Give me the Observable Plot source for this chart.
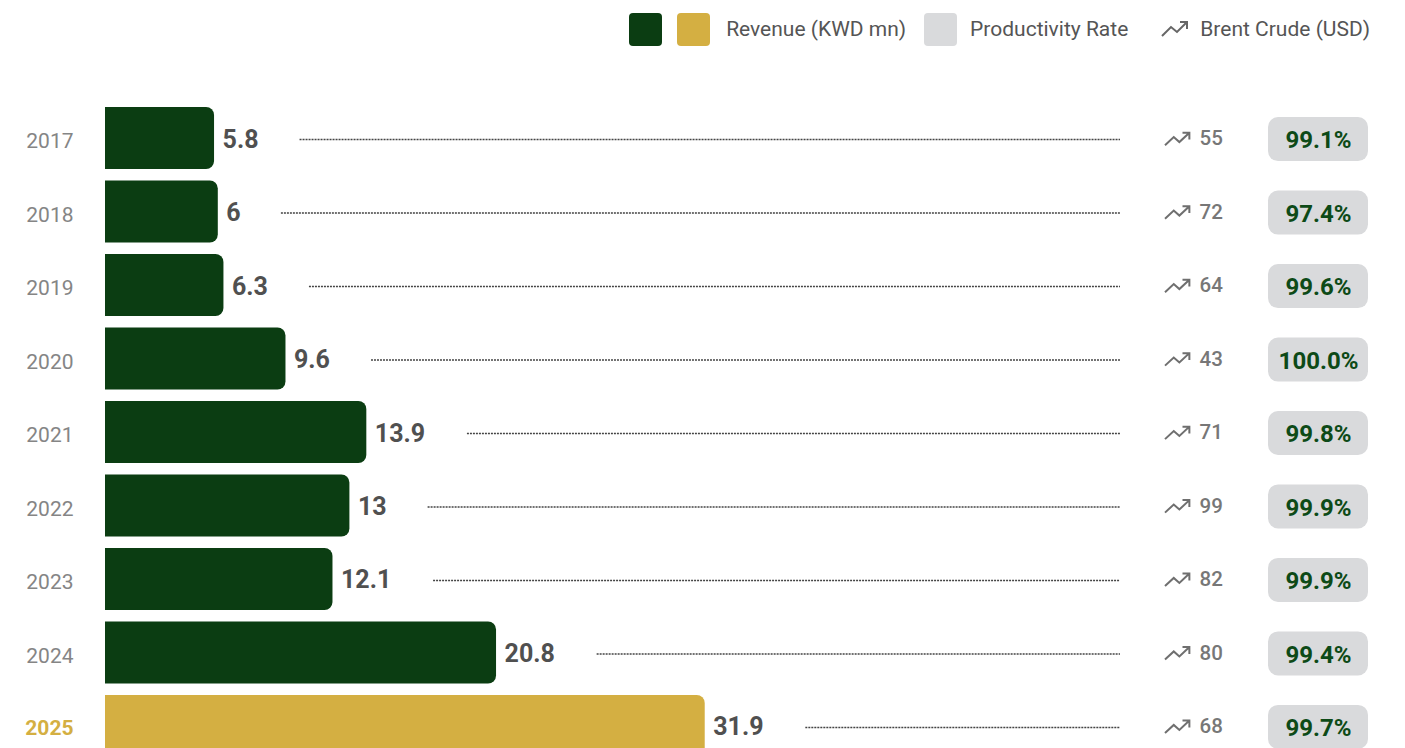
<!DOCTYPE html>
<html><head><meta charset="utf-8">
<script src="https://cdn.jsdelivr.net/npm/d3@7"></script>
<script src="https://cdn.jsdelivr.net/npm/@observablehq/plot@0.6"></script>
<style>
body{margin:0;background:#fff;font-family:Roboto,"Noto Sans",sans-serif;}
#legend{height:58px;display:flex;align-items:center;justify-content:flex-end;padding-right:35px;box-sizing:border-box;font-size:21px;color:#555;}
.sw{width:33px;height:33px;border-radius:4px;display:inline-block;}
.item{display:flex;align-items:center;}
#chart svg{display:block;}
</style></head>
<body>
<div id="legend">
  <div class="item"><span class="sw" style="background:#0b3d12"></span><span class="sw" style="background:#d4af42;margin-left:15px"></span><span style="margin-left:16px">Revenue (KWD mn)</span></div>
  <div class="item" style="margin-left:18px"><span class="sw" style="background:#d9dadc"></span><span style="margin-left:13px">Productivity Rate</span></div>
  <div class="item" style="margin-left:32px"><svg width="30" height="20" viewBox="0 0 30 20"><path d="M2,17 L11,8 L17,13 L27,3 M20,3 L27,3 L27,10" fill="none" stroke="#666" stroke-width="2"/></svg><span style="margin-left:10px">Brent Crude (USD)</span></div>
</div>
<div id="chart"></div>
<script>
const years = ["2017","2018","2019","2020","2021","2022","2023","2024","2025"];
const revenue = [5.8, 6, 6.3, 9.6, 13.9, 13, 12.1, 20.8, 31.9];
const brent = [55, 72, 64, 43, 71, 99, 82, 80, 68];
const productivity = [99.1, 97.4, 99.6, 100.0, 99.8, 99.9, 99.9, 99.4, 99.7];
const highlightYear = "2025";

const data = years.map((y, i) => ({year: y, revenue: revenue[i], brent: brent[i], prod: productivity[i]}));

const W = 1405, mL = 105, mR = 37;
const k = 18.8; // px per unit
const xMaxUnits = (W - mL - mR) / k;
const px = p => (p - mL) / k;
const labelW = v => { const s = String(v); let w = 0; for (const c of s) w += c === "." ? 7.3 : 15.1; return w; };

const green = "#0b3d12", gold = "#d4af42";

const trendSymbol = {
  draw(ctx, size) {
    const r = Math.sqrt(size / Math.PI);
    ctx.moveTo(-r, 0.45 * r);
    ctx.lineTo(-0.3 * r, -0.2 * r);
    ctx.lineTo(0.15 * r, 0.2 * r);
    ctx.lineTo(0.95 * r, -0.55 * r);
    ctx.moveTo(0.4 * r, -0.55 * r);
    ctx.lineTo(0.95 * r, -0.55 * r);
    ctx.lineTo(0.95 * r, 0);
  }
};

const chart = Plot.plot({
  width: W,
  height: 720,
  marginLeft: mL,
  marginRight: mR,
  marginTop: 49,
  marginBottom: 21,
  style: {fontFamily: "Roboto, sans-serif", background: "#fff"},
  x: {domain: [0, xMaxUnits], axis: null},
  y: {domain: years, paddingInner: 0.155, paddingOuter: 0, round: false, axis: null},
  marks: [
    Plot.barX(data, {x1: -1, x2: "revenue", y: "year", fill: d => d.year === highlightYear ? gold : green, rx: 8, clip: true}),
    Plot.text(data, {x: "revenue", y: "year", text: d => String(d.revenue), dx: 8, dy: 1, textAnchor: "start", fontSize: 25, fontWeight: "bold", fill: "#505050"}),
    Plot.ruleY(data, {y: "year", x1: d => d.revenue + (8 + labelW(d.revenue) + 40) / k, x2: px(1120), dy: 1, stroke: "#444", strokeWidth: 1.5, strokeDasharray: "2 1"}),
    Plot.dot(data, {x: px(1177), y: "year", symbol: trendSymbol, r: 12.5, stroke: "#6f6f6f", fill: "none", strokeWidth: 2, dy: 1}),
    Plot.text(data, {x: px(1199), y: "year", text: d => String(d.brent), textAnchor: "start", fontSize: 20.5, fontWeight: 500, fill: "#777"}),
    Plot.barX(data, {x1: px(1268), x2: px(1368), y: "year", fill: "#d9dadc", rx: 10, insetTop: 10, insetBottom: 8}),
    Plot.text(data, {x: px(1318), y: "year", text: d => d.prod.toFixed(1) + "%", dy: 2, fontSize: 24, fontWeight: "bold", fill: "#0d4a17"}),
    Plot.text(data.filter(d => d.year !== highlightYear), {x: 0, y: "year", text: "year", dx: -32, dy: 3, textAnchor: "end", fontSize: 21, fill: "#858585"}),
    Plot.text(data.filter(d => d.year === highlightYear), {x: 0, y: "year", text: "year", dx: -32, dy: 2, textAnchor: "end", fontSize: 21, fontWeight: "bold", fill: gold})
  ]
});
document.getElementById("chart").appendChild(chart);
</script>
</body></html>
